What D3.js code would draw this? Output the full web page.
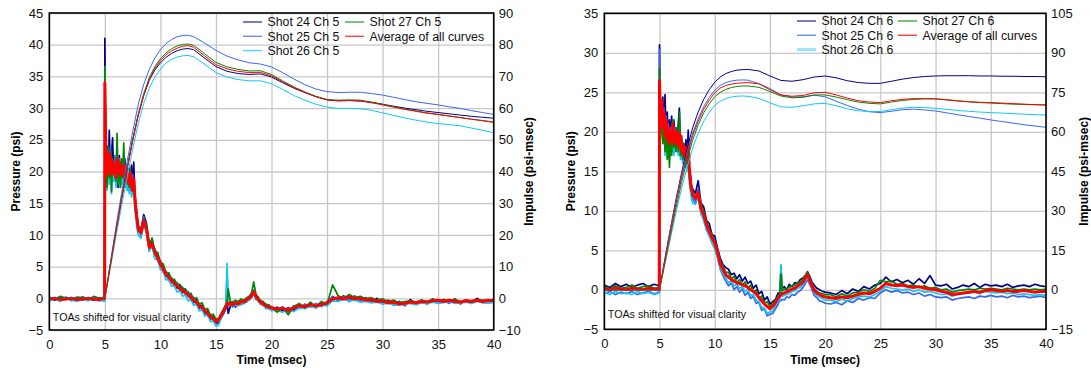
<!DOCTYPE html>
<html>
<head>
<meta charset="utf-8">
<script src="https://cdn.jsdelivr.net/npm/d3@7"></script>
<style>
body { margin: 0; background: #fff; }
text { font-family: "Liberation Sans", Arial, sans-serif; }
</style>
</head>
<body>
<svg id="chart" width="1091" height="368"></svg>
<script>
// ---- data ----

// time grid (msec) shared by all pressure traces
var timeP = [0, 0.5, 1, 1.5, 2, 2.5, 3, 3.5, 4, 4.5, 4.98,
  5, 5.08, 5.2, 5.3, 5.4, 5.5, 5.6, 5.7, 5.8, 5.9, 6, 6.1, 6.2, 6.3, 6.4, 6.5, 6.6, 6.7, 6.8, 6.9, 7, 7.1, 7.2, 7.3, 7.4, 7.5, 7.6, 7.7, 7.8, 7.9, 8,
  8.25, 8.5, 8.75, 9, 9.25, 9.5, 9.75, 10, 10.25, 10.5, 10.75, 11, 11.25, 11.5, 11.75, 12, 12.25, 12.5, 12.75, 13, 13.25, 13.5, 13.75, 14, 14.25, 14.5, 14.75, 15,
  15.25, 15.5, 15.75, 15.9, 16, 16.1, 16.3, 16.5, 16.75, 17, 17.25, 17.5, 17.75, 18, 18.2, 18.4, 18.6, 18.8, 19, 19.25, 19.5, 19.75, 20,
  20.5, 21, 21.5, 22, 22.5, 23, 23.5, 24, 24.5, 25, 25.5, 26, 26.5, 27, 27.5, 28, 28.5, 29, 29.5, 30,
  30.5, 31, 31.5, 32, 32.5, 33, 33.5, 34, 34.5, 35, 35.5, 36, 36.5, 37, 37.5, 38, 38.5, 39, 39.5, 40];

// time grid (msec) for impulse curves
var timeI = [0, 5, 5.5, 6, 6.5, 7, 7.5, 8, 8.5, 9, 9.5, 10, 10.5, 11, 11.5, 12, 12.5, 13,
  14, 15, 16, 17, 18, 19, 20, 21, 22, 23, 24, 25, 26, 27, 28, 29, 30, 31, 32, 33, 34, 35, 36, 37, 38, 39, 40];

// Channel 5 pressure (psi)
var pressCh5Shot24 = [0.1, -0.3, 0.2, -0.2, 0.1, -0.3, 0.2, -0.1, -0.3, 0.1, -0.2,
  41, 21, 24, 19, 26.5, 19.5, 23, 25.3, 18.5, 22, 18, 21, 17.5, 22.5, 19, 21.5, 18, 20, 22, 17.5, 19.5, 17, 20.5, 19, 21, 16.5, 21.5, 16.5, 14.5, 13, 11.5,
  10.8, 13.2, 11.8, 7.5, 9.5, 6.8, 7.2, 5, 5.3, 3.4, 3.9, 2.5, 2.8, 1.6, 2.1, 0.9, 1.4, 0.3, 0.5, -0.7, -0.2, -1.6, -1.1, -2.5, -2, -3.3, -2.8, -4.0,
  -3.8, -3.0, -2.2, -1.6, -0.5, -2.4, -1.2, -0.6, -1.4, -0.5, -1.0, -0.2, -0.6, 0.3, 0.1, 1.2, -0.1, 0.2, -0.9, -0.5, -1.6, -1.0, -1.9,
  -1.4, -2.0, -1.5, -1.9, -1.0, -1.6, -0.7, -1.5, -0.8, -1.0, 0.3, -0.3, 0.4, -0.5, 0.3, -0.4, 0.1, -0.6, 0.0, -0.8,
  -0.3, -1.0, -0.5, -1.1, -0.2, -0.9, -0.3, -0.8, -0.1, -0.6, -0.2, -0.7, -0.1, -0.8, -0.3, -0.7, 0.0, -0.6, -0.2, -0.4];
var pressCh5Shot25 = [-0.3, 0.1, -0.2, 0.2, -0.4, 0, -0.3, 0.1, -0.2, -0.4, 0.1,
  36, 22.5, 18, 23.5, 19, 24, 18.5, 21, 19, 22.5, 18, 21.5, 19, 22, 18.5, 21, 20, 22, 18.5, 21, 19, 20.5, 17.5, 20, 18, 19.5, 17.5, 16, 14, 12.5, 11.5,
  9.8, 12.8, 10.5, 8.8, 7.9, 7.8, 5.9, 6, 4.1, 4.3, 2.8, 3.3, 1.9, 2.5, 1.1, 1.8, 0.4, 1.1, -0.3, 0.2, -1.0, -0.8, -1.9, -1.6, -2.8, -2.5, -3.6, -3.9,
  -3.2, -2.4, -1.5, -1.0, 4.2, -0.4, -1.1, -0.5, -1.2, -0.4, -0.9, -0.3, -0.5, 0.3, 0.8, 1.3, 0.6, -0.1, -0.9, -0.6, -1.5, -1.1, -1.8,
  -2.0, -1.3, -2.2, -1.2, -1.6, -0.9, -1.4, -0.8, -1.3, -0.5, 0.2, -0.4, 0.3, -0.2, 0.4, -0.5, 0.0, -0.7, -0.2, -0.9,
  -0.5, -1.1, -0.6, -1.2, -0.4, -1.0, -0.3, -0.9, -0.2, -0.7, -0.4, -0.8, -0.2, -0.9, -0.3, -0.8, -0.2, -0.7, -0.3, -0.6];
var pressCh5Shot26 = [-0.4, -0.1, -0.5, 0, -0.3, -0.5, -0.1, -0.4, 0, -0.3, -0.5,
  36.5, 20, 17, 22, 18, 21, 16.5, 20.5, 18.5, 20, 17.5, 21, 18.5, 20.5, 17.5, 19.5, 18, 20, 17.5, 19.5, 17, 18.5, 16.5, 19, 16, 17.5, 16.5, 14, 12.5, 11, 10,
  9.5, 11.5, 10.2, 7.4, 8.3, 6.2, 6.1, 4.5, 4.3, 2.9, 3.0, 1.9, 2.0, 1.0, 1.2, 0.3, 0.6, -0.4, -0.2, -1.1, -0.9, -2.0, -1.8, -2.8, -2.6, -3.7, -3.5, -4.4,
  -4.2, -2.9, -2.0, -1.4, 5.5, -1.3, -0.9, -1.4, -1.0, -1.2, -0.8, -0.9, -0.5, -0.3, 0.2, 0.7, 0.0, -0.5, -0.9, -1.2, -1.5, -1.7, -1.9,
  -1.9, -2.2, -1.7, -2.1, -1.5, -1.6, -1.3, -1.5, -1.1, -1.2, -0.4, -0.5, -0.2, -0.4, -0.3, -0.6, -0.5, -0.7, -0.6, -0.9,
  -0.8, -1.0, -1.1, -0.9, -0.8, -1.0, -0.7, -0.9, -0.6, -0.8, -0.7, -0.5, -0.8, -0.7, -0.6, -0.8, -0.5, -0.7, -0.8, -0.6];
var pressCh5Shot27 = [0.2, -0.1, 0.3, 0, -0.2, 0.2, 0.1, -0.2, 0.3, 0, 0.2,
  36.5, 21, 17.5, 24, 19, 23, 16.8, 22, 19.5, 21, 18.5, 26, 18, 21, 17.5, 22, 19, 24.5, 18.5, 20, 18, 19, 17.5, 20.5, 17, 18, 18.5, 15.5, 13, 12, 10.5,
  11, 12.5, 11.6, 8.6, 9.4, 7.5, 7.2, 5.7, 5.4, 4.1, 4.0, 3.0, 3.0, 2.2, 2.2, 1.5, 1.5, 0.7, 0.8, -0.2, 0.1, -1.0, -0.7, -1.8, -1.6, -2.7, -2.5, -3.3,
  -3.1, -2.3, -1.5, -1.0, -0.6, 1.5, -0.5, -0.7, -0.3, -0.6, -0.1, -0.4, 0.1, 0.3, 0.8, 2.6, 0.6, 0.1, -0.3, -0.6, -0.9, -1.2, -1.3,
  -2.2, -1.4, -2.6, -1.3, -0.8, -1.5, -0.6, -1.3, -0.5, -0.9, 2.1, 0.4, 0.0, 0.6, 0.1, 0.3, -0.1, 0.1, -0.3, -0.1,
  -0.5, -0.3, -0.7, -0.5, -0.4, -0.6, -0.3, -0.5, -0.2, -0.4, -0.3, -0.4, -0.2, -0.5, -0.3, -0.4, -0.2, -0.3, -0.3, -0.2];
var pressCh5Avg = [-0.1, 0, -0.2, -0.1, 0, -0.2, -0.1, 0, -0.1, -0.2, 0,
  34, 24, 19.5, 23, 20, 22.5, 19.5, 21.5, 20, 21, 19, 22, 20, 21.5, 19.5, 20.5, 19.5, 21, 19, 20, 18.5, 19.5, 18, 19.8, 18, 17, 18.8, 16, 14, 12.5, 11,
  10.3, 12.2, 11, 8, 8.6, 7.2, 6.4, 5.4, 4.6, 3.8, 3.3, 2.8, 2.3, 2.0, 1.5, 1.3, 0.9, 0.6, 0.1, -0.3, -0.6, -1.2, -1.5, -2.0, -2.4, -2.9, -3.2, -3.7,
  -3.4, -2.6, -1.8, -1.3, -0.8, -1.0, -0.7, -1.1, -0.7, -0.9, -0.5, -0.6, -0.2, 0.0, 0.4, 1.0, 0.3, -0.2, -0.6, -0.9, -1.2, -1.4, -1.5,
  -1.7, -1.6, -1.9, -1.5, -1.2, -1.3, -1.0, -1.2, -1.0, -0.7, -0.1, 0.1, -0.1, 0.2, -0.1, 0.0, -0.3, -0.2, -0.5, -0.4,
  -0.7, -0.6, -0.9, -0.8, -0.6, -0.7, -0.5, -0.6, -0.4, -0.3, -0.5, -0.3, -0.5, -0.6, -0.4, -0.5, -0.3, -0.5, -0.4, -0.3];

// Channel 5 impulse (psi-msec)
var impCh5Shot24 = [0, 0, 10.8, 21.5, 31.5, 41, 50, 57.8, 64, 68.8, 72, 74.3, 76, 77.2, 78.1, 78.6, 78.8, 78.4,
  75.7, 73.1, 71.6, 70.9, 70.6, 70.8, 69.8, 68.0, 66.3, 64.9, 63.6,
  62.6, 62.3, 62.4, 62.2, 61.8, 61.2, 60.6, 60.0, 59.5, 59.0, 58.6, 58.2, 57.8, 57.4, 57.1, 56.8];
var impCh5Shot25 = [0, 0, 11.2, 22.5, 33, 43, 52.5, 61, 67.5, 72.2, 75.8, 78.4, 80.3, 81.6, 82.5, 82.9, 83.0, 82.5,
  80.5, 78.2, 76.4, 75.2, 74.3, 73.9, 73.0, 71.2, 69.2, 67.4, 66.0,
  65.2, 64.9, 65.0, 65.0, 64.6, 64.1, 63.4, 62.7, 62.0, 61.5, 61.0, 60.4, 59.9, 59.2, 58.6, 58.0];
var impCh5Shot26 = [0, 0, 9.5, 19.5, 29, 38, 47, 55, 61.5, 66.3, 69.8, 72.3, 74.2, 75.4, 76.1, 76.5, 76.6, 76.2,
  73.8, 71.2, 69.8, 69.0, 68.6, 68.6, 67.7, 65.9, 64.0, 62.5, 61.2,
  60.3, 59.9, 59.9, 59.8, 59.3, 58.5, 57.7, 56.9, 56.2, 55.6, 55.1, 54.8, 54.4, 53.7, 53.0, 52.2];
var impCh5Shot27 = [0, 0, 10.6, 21.2, 31.3, 40.8, 50, 58, 64.6, 69.6, 73.1, 75.6, 77.4, 78.7, 79.6, 80.1, 80.2, 79.8,
  77.1, 74.4, 73.0, 72.2, 71.7, 71.8, 70.6, 68.6, 66.7, 65.1, 63.7,
  62.7, 62.5, 62.6, 62.5, 61.9, 61.2, 60.4, 59.7, 59.1, 58.5, 58.0, 57.5, 57.0, 56.5, 56.1, 55.6];
var impCh5Avg = [0, 0, 10.5, 21, 31, 40.5, 49.5, 57.5, 64, 69, 72.5, 75, 76.8, 78, 78.9, 79.5, 79.7, 79.2,
  76.4, 73.7, 72.4, 71.6, 71.2, 71.3, 70.2, 68.3, 66.5, 65.0, 63.6,
  62.6, 62.3, 62.4, 62.3, 61.7, 61.0, 60.3, 59.6, 59.0, 58.4, 58.0, 57.5, 57.0, 56.5, 56.0, 55.5];

// Channel 6 pressure (psi)
var pressCh6Shot24 = [0.6, 0.3, 0.8, 0.4, 0.7, 0.3, 0.6, 0.8, 0.4, 0.7, 0.5,
  31, 20, 22, 24.4, 19.5, 24.7, 18.5, 22.5, 18, 21.5, 19, 22, 17.5, 21.5, 19, 20.5, 18, 21, 23, 17, 19.5, 16.5, 18.5, 17, 19, 16, 20.2, 15, 14.5, 13, 12.8,
  12.2, 13.8, 11, 10.5, 8.8, 8.4, 7, 6.8, 5.3, 4, 3.2, 2.8, 2.6, 1.9, 2.1, 1.4, 1.9, 1.1, 1.6, 0.8, 1.1, 0.2, 0.6, -0.5, -0.2, -1.3, -0.9, -1.8,
  -1.5, -1.2, -0.4, -0.5, 3.0, 0.1, 0.4, 0.0, 0.7, 0.4, 0.9, 0.8, 1.3, 1.5, 1.8, 2.3, 1.7, 1.0, 0.6, 0.2, 0.0, -0.2, -0.3,
  -0.4, -0.6, -0.1, -0.5, 0.1, -0.2, 0.4, 0.1, 0.6, 0.8, 1.6, 1.0, 1.3, 0.9, 1.2, 0.7, 1.4, 0.8, 1.8, 0.6,
  0.5, 0.7, 0.1, 0.3, 0.6, 0.4, 0.8, 0.3, 0.7, 0.5, 0.6, 0.4, 0.7, 0.3, 0.5, 0.6, 0.4, 0.7, 0.5, 0.4];
var pressCh6Shot25 = [-0.5, -0.2, -0.6, -0.3, -0.5, -0.2, -0.6, -0.4, -0.2, -0.5, -0.3,
  30.4, 22, 23.5, 19.5, 23, 18.5, 22, 18, 21, 17.5, 20.5, 18, 21.5, 17.5, 20.5, 18.5, 19.5, 18, 20, 17.5, 19, 17, 18, 16, 17.5, 16.5, 18.5, 14.5, 13, 12, 11.5,
  11, 12.8, 9.6, 9.2, 7.6, 7.0, 5.9, 5.3, 4.1, 2.6, 1.8, 1.1, 0.5, 0.9, 0.0, 0.4, -0.3, 0.1, -0.7, -0.3, -1.1, -0.8, -1.7, -1.6, -2.6, -2.4, -3.3, -3.1,
  -3.0, -2.4, -1.8, -1.3, -1.4, -1.2, -1.3, -0.9, -1.0, -0.6, -0.7, -0.3, -0.1, 0.3, 0.8, 1.3, 0.7, 0.0, -0.7, -1.0, -1.4, -1.5, -1.7,
  -1.8, -1.6, -1.9, -1.4, -1.6, -1.1, -1.3, -1.0, -1.1, -0.4, 0.0, -0.3, -0.1, -0.4, -0.3, -0.6, -0.4, -0.8, -0.6, -0.9,
  -1.0, -0.9, -1.3, -1.1, -1.0, -0.9, -1.1, -0.8, -0.9, -0.7, -0.9, -0.8, -1.0, -0.7, -0.9, -0.8, -1.0, -0.9, -0.8, -1.0];
var pressCh6Shot26 = [-0.3, -0.6, -0.2, -0.5, -0.4, -0.6, -0.2, -0.5, -0.3, -0.6, -0.4,
  27, 20.5, 22.5, 19, 21.5, 17, 20.5, 17.5, 19.5, 16.5, 19.5, 17.5, 20, 17, 19, 17.5, 18.5, 17, 19, 16.5, 18, 16, 17.5, 15.5, 16.5, 15, 17, 13.5, 12.5, 11.5, 11,
  10.8, 11.6, 9.8, 8.7, 7.6, 6.8, 6.0, 5.2, 4.2, 2.8, 2.1, 1.5, 0.9, 1.1, 0.5, 0.7, 0.2, 0.4, -0.2, 0.0, -0.7, -0.6, -1.3, -1.5, -2.2, -2.3, -3.0, -2.8,
  -2.7, -2.0, -1.5, -1.1, 3.2, -0.8, -0.7, -0.6, -0.5, -0.2, -0.1, 0.2, 0.3, 0.7, 1.1, 1.6, 0.9, 0.2, -0.4, -0.7, -0.9, -1.1, -1.3,
  -1.3, -1.5, -1.2, -1.4, -1.1, -0.9, -0.8, -0.9, -0.6, -0.2, 0.4, 0.2, 0.1, 0.0, 0.1, -0.2, 0.0, -0.3, -0.2, -0.4,
  -0.6, -0.5, -0.8, -0.6, -0.5, -0.4, -0.3, -0.5, -0.2, -0.3, -0.4, -0.3, -0.5, -0.4, -0.6, -0.5, -0.6, -0.7, -0.6, -0.7];
var pressCh6Shot27 = [0.4, 0.1, 0.5, 0.2, 0.3, 0.6, 0.2, 0.4, 0.5, 0.2, 0.3,
  28, 19, 22.5, 18.5, 21, 17.5, 20.5, 16.5, 19, 15.5, 20, 17, 21.5, 18, 19.5, 17.5, 20.5, 17.5, 22.5, 17, 19, 16.5, 18.5, 16.5, 17.5, 16, 17.5, 14.5, 13, 12.5, 11.8,
  11.8, 12.5, 10.9, 9.9, 8.6, 7.7, 7.0, 6.2, 5.1, 3.7, 3.0, 2.2, 2.2, 1.4, 1.7, 0.9, 1.3, 0.6, 1.0, 0.2, 0.6, -0.3, 0.0, -1.0, -0.8, -1.7, -1.5, -2.1,
  -1.8, -1.3, -0.7, -0.5, 2.0, -0.1, 0.0, 0.1, 0.3, 0.5, 0.6, 0.9, 1.0, 1.4, 1.8, 2.2, 1.5, 0.8, 0.2, -0.2, -0.4, -0.5, -0.6,
  -0.6, -0.9, -0.5, -0.8, -0.4, -0.3, 0.0, -0.2, 0.2, 1.2, 1.0, 1.1, 0.7, 0.8, 0.5, 0.6, 0.3, 0.5, 0.2, 0.3,
  0.0, 0.1, -0.3, -0.1, 0.0, 0.1, 0.0, 0.2, 0.1, 0.2, 0.1, 0.0, 0.2, 0.1, 0.0, 0.1, 0.0, 0.1, 0.0, 0.1];
var pressCh6Avg = [0.1, 0, 0.2, 0.1, 0, 0.2, 0.1, 0, 0.2, 0.1, 0,
  26.5, 21, 24, 20.5, 22.5, 19.5, 21.5, 19, 20.5, 18.5, 20, 19, 21, 18.5, 20, 19.5, 18.5, 20, 18, 19.5, 17.5, 18.5, 17, 18, 16.5, 17.5, 18.2, 15.5, 13.8, 12.8, 12.2,
  11.5, 12.3, 10.3, 9.5, 8.3, 7.4, 6.6, 5.9, 4.8, 3.3, 2.6, 1.9, 1.6, 1.3, 1.1, 0.9, 0.8, 0.6, 0.5, 0.3, 0.0, -0.2, -0.5, -1.0, -1.4, -1.8, -2.1, -2.4,
  -2.1, -1.6, -1.0, -0.8, -0.6, -0.5, -0.4, -0.3, -0.1, 0.1, 0.2, 0.5, 0.7, 1.0, 1.5, 1.9, 1.2, 0.5, -0.1, -0.4, -0.6, -0.8, -0.9,
  -1.0, -1.1, -0.9, -1.0, -0.8, -0.6, -0.4, -0.5, -0.2, 0.2, 0.8, 0.6, 0.5, 0.6, 0.4, 0.3, 0.4, 0.2, 0.1, 0.0,
  -0.2, -0.3, -0.6, -0.5, -0.4, -0.3, -0.2, -0.3, -0.1, 0.0, -0.1, -0.2, -0.1, -0.2, -0.2, -0.1, -0.2, -0.3, -0.2, -0.2];

// Channel 6 impulse (psi-msec)
var impCh6Shot24 = [0, 0, 12, 23.5, 34.5, 44.5, 53.5, 61.5, 67.5, 72.3, 76, 78.8, 80.8, 82.1, 82.9, 83.4, 83.6, 83.7,
  83.1, 81.2, 79.5, 79.2, 79.8, 80.8, 81.2, 80.5, 79.4, 78.7, 78.4,
  78.4, 79.2, 80.0, 80.6, 81.0, 81.2, 81.3, 81.3, 81.3, 81.2, 81.2, 81.1, 81.1, 81.0, 81.0, 80.9];
var impCh6Shot25 = [0, 0, 11.8, 23, 33.8, 43.5, 52, 59.5, 65, 69.5, 73, 75.8, 77.6, 78.7, 79.3, 79.6, 79.7, 79.6,
  78.3, 76.4, 74.0, 73.2, 73.3, 73.9, 73.3, 71.6, 70.0, 68.6, 67.6,
  67.3, 67.8, 68.4, 68.6, 68.3, 67.9, 67.2, 66.5, 65.8, 65.2, 64.5, 63.9, 63.3, 62.7, 62.2, 61.7];
var impCh6Shot26 = [0, 0, 9.8, 19.8, 29.5, 38.5, 46.5, 53.8, 59.5, 64, 67.4, 70, 71.6, 72.6, 73.2, 73.5, 73.6, 73.5,
  72.7, 71.0, 69.5, 69.3, 69.9, 70.6, 70.8, 69.9, 68.7, 68.0, 67.7,
  67.7, 68.4, 69.0, 69.3, 69.2, 68.9, 68.5, 68.1, 67.8, 67.5, 67.3, 67.1, 66.9, 66.7, 66.5, 66.4];
var impCh6Shot27 = [0, 0, 10.5, 21, 31.3, 40.8, 49.3, 56.8, 62.6, 67.2, 70.6, 73.3, 75.0, 76.1, 76.8, 77.2, 77.4, 77.4,
  76.9, 75.3, 73.6, 72.9, 73.1, 74.0, 74.0, 73.2, 72.2, 71.3, 70.8,
  70.6, 71.3, 71.9, 72.3, 72.5, 72.5, 72.2, 71.8, 71.4, 71.1, 70.9, 70.7, 70.5, 70.4, 70.3, 70.2];
var impCh6Avg = [0, 0, 11.5, 22.5, 33, 42.5, 51, 58.5, 64, 68.5, 72, 74.8, 76.6, 77.6, 78.1, 78.4, 78.6, 78.7,
  78.2, 76.0, 74.0, 73.5, 73.8, 74.8, 75.0, 74.0, 72.8, 71.8, 71.3,
  71.1, 71.8, 72.3, 72.6, 72.6, 72.5, 72.1, 71.7, 71.4, 71.2, 71.1, 70.9, 70.7, 70.5, 70.3, 70.2];

// labels and ticks
var labelsCh5 = ["Shot 24 Ch 5", "Shot 25 Ch 5", "Shot 26 Ch 5", "Shot 27 Ch 5", "Average of all curves"];
var labelsCh6 = ["Shot 24 Ch 6", "Shot 25 Ch 6", "Shot 26 Ch 6", "Shot 27 Ch 6", "Average of all curves"];
var timeTicks = [0, 5, 10, 15, 20, 25, 30, 35, 40];
var pressTicksCh5 = [-5, 0, 5, 10, 15, 20, 25, 30, 35, 40, 45];
var impTicksCh5 = [-10, 0, 10, 20, 30, 40, 50, 60, 70, 80, 90];
var pressTicksCh6 = [-5, 0, 5, 10, 15, 20, 25, 30, 35];
var impTicksCh6 = [-15, 0, 15, 30, 45, 60, 75, 90, 105];
var note = "TOAs shifted for visual clarity";

var colors = ["#000088", "#3a66f0", "#10c8f5", "#008800", "#ff0000"];

var svg = d3.select("#chart");
svg.append("rect").attr("width", 1091).attr("height", 368).attr("fill", "#fff");

function drawPanel(p) {
  var x = d3.scaleLinear().domain([0, 40]).range([p.left, p.right]);
  var y = d3.scaleLinear().domain([p.pTicks[0], p.pTicks[p.pTicks.length - 1]]).range([p.bottom, p.top]);
  var yI = d3.scaleLinear().domain([p.iTicks[0], p.iTicks[p.iTicks.length - 1]]).range([p.bottom, p.top]);
  var h = p.bottom - p.top, w = p.right - p.left;

  var g = svg.append("g");

  // grid
  var gx = g.append("g").attr("transform", "translate(0," + p.bottom + ")")
    .call(d3.axisBottom(x).tickValues(timeTicks).tickSize(-h).tickFormat(""));
  var gy = g.append("g").attr("transform", "translate(" + p.left + ",0)")
    .call(d3.axisLeft(y).tickValues(p.pTicks).tickSize(-w).tickFormat(""));
  [gx, gy].forEach(function(a) {
    a.select(".domain").remove();
    a.selectAll("line").attr("stroke", "#c8c8c8").attr("stroke-width", 1.3);
  });

  g.append("clipPath").attr("id", p.id + "clip")
    .append("rect").attr("x", p.left).attr("y", p.top).attr("width", w).attr("height", h);
  var plot = g.append("g").attr("clip-path", "url(#" + p.id + "clip)");

  var lineP = d3.line().x(function(d, i) { return x(timeP[i]); }).y(function(d) { return y(d); });
  var lineI = d3.line().x(function(d, i) { return x(timeI[i]); }).y(function(d) { return yI(d); });

  p.press.forEach(function(s, k) {
    plot.append("path").attr("d", lineP(s)).attr("fill", "none")
      .attr("stroke", colors[k]).attr("stroke-width", k === 4 ? 3 : 1.7)
      .attr("stroke-linejoin", "round");
  });
  p.imp.forEach(function(s, k) {
    plot.append("path").attr("d", lineI(s)).attr("fill", "none")
      .attr("stroke", colors[k]).attr("stroke-width", 1);
  });

  // frame
  g.append("rect").attr("x", p.left).attr("y", p.top).attr("width", w).attr("height", h)
    .attr("fill", "none").attr("stroke", "#000").attr("stroke-width", 1.6);

  // tick labels
  var ax = g.append("g").attr("transform", "translate(0," + p.bottom + ")")
    .call(d3.axisBottom(x).tickValues(timeTicks).tickSize(0).tickPadding(9.5));
  var ayl = g.append("g").attr("transform", "translate(" + p.left + ",0)")
    .call(d3.axisLeft(y).tickValues(p.pTicks).tickSize(0).tickPadding(6));
  var ayr = g.append("g").attr("transform", "translate(" + p.right + ",0)")
    .call(d3.axisRight(yI).tickValues(p.iTicks).tickSize(0).tickPadding(5));
  [ax, ayl, ayr].forEach(function(a) {
    a.select(".domain").remove();
    a.selectAll("text").attr("font-size", "13px").attr("font-family", "Liberation Sans, Arial, sans-serif").attr("fill", "#111");
  });

  // axis titles
  g.append("text").attr("x", (p.left + p.right) / 2).attr("y", 363.5)
    .attr("text-anchor", "middle").attr("font-size", "12px").attr("font-weight", "bold")
    .text("Time (msec)");
  g.append("text").attr("transform", "translate(" + p.pTitleX + "," + (p.top + h / 2) + ") rotate(-90)")
    .attr("text-anchor", "middle").attr("font-size", "12px").attr("font-weight", "bold")
    .text("Pressure (psi)");
  g.append("text").attr("transform", "translate(" + p.iTitleX + "," + (p.top + h / 2) + ") rotate(-90)")
    .attr("text-anchor", "middle").attr("font-size", "12px").attr("font-weight", "bold")
    .text("Impulse (psi-msec)");

  // note
  g.append("text").attr("x", p.left + 3.5).attr("y", p.bottom - p.noteDy)
    .attr("font-size", "10.7px").attr("fill", "#111").text(note);

  // legend
  p.labels.forEach(function(lab, k) {
    var col = k < 3 ? 0 : 1, row = k < 3 ? k : k - 3;
    var lx = p.legX[col], ly = p.legY + row * 14.3;
    g.append("line").attr("x1", lx).attr("x2", lx + 19).attr("y1", ly).attr("y2", ly)
      .attr("stroke", colors[k]).attr("stroke-opacity", p.legWide === k ? 0.45 : 0.75)
      .attr("stroke-width", p.legWide === k ? 3 : 1.4);
    g.append("text").attr("x", lx + 24.5).attr("y", ly + 4.4)
      .attr("font-size", "12.3px").attr("fill", "#111").text(lab);
  });
}

drawPanel({
  id: "ch5", left: 49.3, right: 493.7, top: 13, bottom: 330,
  pTicks: pressTicksCh5, iTicks: impTicksCh5,
  press: [pressCh5Shot24, pressCh5Shot25, pressCh5Shot26, pressCh5Shot27, pressCh5Avg],
  imp: [impCh5Shot24, impCh5Shot25, impCh5Shot26, impCh5Shot27, impCh5Avg],
  labels: labelsCh5, legX: [243, 345], legY: 22, legWide: -1,
  pTitleX: 20, iTitleX: 533, noteDy: 9.3
});

drawPanel({
  id: "ch6", left: 604.3, right: 1046, top: 13.3, bottom: 329.3,
  pTicks: pressTicksCh6, iTicks: impTicksCh6,
  press: [pressCh6Shot24, pressCh6Shot25, pressCh6Shot26, pressCh6Shot27, pressCh6Avg],
  imp: [impCh6Shot24, impCh6Shot25, impCh6Shot26, impCh6Shot27, impCh6Avg],
  labels: labelsCh6, legX: [797, 898], legY: 21, legWide: 2,
  pTitleX: 575, iTitleX: 1088, noteDy: 11
});
</script>
</body>
</html>
